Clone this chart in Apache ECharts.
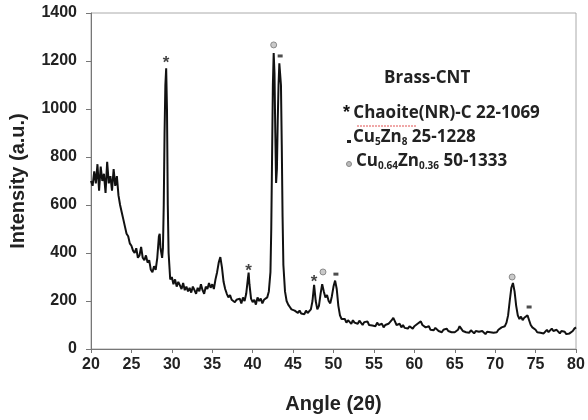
<!DOCTYPE html>
<html>
<head>
<meta charset="utf-8">
<script src="https://cdn.jsdelivr.net/npm/echarts@6/dist/echarts.min.js"></script>
<style>html,body{margin:0;padding:0;background:#fff}#c{width:588px;height:420px}</style>
</head>
<body>
<div id="c"></div>
<script>
// XRD pattern: [angle 2θ, intensity]
const pattern = [
[20.0,700],[20.2,680],[20.4,740],[20.6,690],[20.8,770],[21.0,660],[21.2,760],[21.4,700],[21.6,730],[21.8,650],
[22.0,780],[22.2,690],[22.4,720],[22.6,660],[22.8,750],[23.0,680],[23.2,720],[23.4,640],[23.6,600],[23.8,570],
[24.0,540],[24.2,510],[24.4,480],[24.6,470],[24.8,440],[25.0,430],[25.2,410],[25.4,400],[25.6,420],[25.8,380],
[26.0,390],[26.2,425],[26.4,380],[26.6,370],[26.8,390],[27.0,360],[27.2,370],[27.4,330],[27.6,320],[27.8,345],
[28.0,330],[28.2,380],[28.4,470],[28.5,480],[28.6,420],[28.8,380],[28.9,420],[29.0,600],[29.1,900],[29.2,1100],
[29.3,1170],[29.4,1000],[29.5,600],[29.6,400],[29.8,290],[30.0,300],[30.2,270],[30.4,290],[30.6,260],[30.8,280],
[31.0,265],[31.2,250],[31.4,275],[31.6,245],[31.8,260],[32.0,240],[32.2,255],[32.4,235],[32.6,260],[32.8,245],
[33.0,230],[33.2,255],[33.4,240],[33.6,270],[33.8,245],[34.0,230],[34.2,260],[34.4,250],[34.6,275],[34.8,255],
[35.0,270],[35.2,250],[35.4,290],[35.6,320],[35.8,360],[36.0,383],[36.2,340],[36.4,280],[36.6,250],[36.8,230],
[37.0,215],[37.2,225],[37.4,205],[37.6,210],[37.8,195],[38.0,205],[38.2,200],[38.4,210],[38.6,190],[38.8,215],
[39.0,200],[39.2,230],[39.4,290],[39.5,318],[39.6,270],[39.8,210],[40.0,195],[40.2,205],[40.4,185],[40.6,215],
[40.8,200],[41.0,210],[41.2,190],[41.4,205],[41.6,200],[41.8,215],[42.0,240],[42.2,320],[42.3,500],[42.4,800],
[42.5,1100],[42.6,1233],[42.7,1150],[42.8,900],[42.9,692],[43.0,750],[43.1,950],[43.2,1100],[43.3,1190],[43.4,1196],
[43.5,1100],[43.6,850],[43.7,550],[43.8,350],[44.0,240],[44.2,200],[44.4,185],[44.6,175],[44.8,165],[45.0,170],
[45.2,160],[45.4,165],[45.6,150],[45.8,160],[46.0,148],[46.2,155],[46.4,145],[46.6,160],[46.8,150],[47.0,145],
[47.2,165],[47.4,200],[47.6,267],[47.8,200],[48.0,165],[48.2,180],[48.4,230],[48.6,270],[48.8,240],[49.0,215],
[49.2,225],[49.4,200],[49.6,190],[49.8,220],[50.0,260],[50.2,285],[50.4,250],[50.6,180],[50.8,140],[51.0,125],
[51.2,120],[51.4,125],[51.6,110],[51.8,120],[52.0,115],[52.2,105],[52.4,120],[52.6,110],[52.8,115],[53.0,105],
[53.2,118],[53.4,110],[53.6,100],[53.8,112],[54.0,105],[54.2,115],[54.4,100],[54.6,108],[54.8,98],[55.0,105],
[55.2,95],[55.4,110],[55.6,100],[55.8,95],[56.0,105],[56.2,90],[56.4,100],[56.6,95],[56.8,105],[57.0,110],
[57.2,120],[57.4,130],[57.6,115],[57.8,100],[58.0,95],[58.2,105],[58.4,90],[58.6,100],[58.8,88],[59.0,95],
[59.2,85],[59.4,95],[59.6,90],[59.8,85],[60.0,95],[60.2,90],[60.4,105],[60.6,110],[60.8,115],[61.0,100],
[61.2,95],[61.4,90],[61.6,85],[61.8,95],[62.0,80],[62.2,85],[62.4,78],[62.6,88],[62.8,80],[63.0,75],
[63.2,82],[63.4,70],[63.6,80],[63.8,72],[64.0,85],[64.2,75],[64.4,80],[64.6,70],[64.8,78],[65.0,70],
[65.2,75],[65.4,80],[65.6,95],[65.8,85],[66.0,75],[66.2,80],[66.4,70],[66.6,75],[66.8,68],[67.0,78],
[67.2,70],[67.4,65],[67.6,75],[67.8,68],[68.0,72],[68.2,65],[68.4,75],[68.6,70],[68.8,62],[69.0,72],
[69.2,65],[69.4,70],[69.6,62],[69.8,68],[70.0,75],[70.2,70],[70.4,80],[70.6,75],[70.8,90],[71.0,85],
[71.2,95],[71.4,110],[71.6,140],[71.8,200],[72.0,255],[72.2,275],[72.4,240],[72.6,180],[72.8,140],[73.0,125],
[73.2,135],[73.4,120],[73.6,130],[73.8,125],[74.0,140],[74.2,120],[74.4,100],[74.6,90],[74.8,85],[75.0,80],
[75.2,70],[75.4,78],[75.6,68],[75.8,75],[76.0,65],[76.2,72],[76.4,80],[76.6,70],[76.8,78],[77.0,85],
[77.2,75],[77.4,70],[77.6,80],[77.8,72],[78.0,65],[78.2,75],[78.4,68],[78.6,72],[78.8,62],[79.0,70],
[79.2,65],[79.4,60],[79.6,75],[79.8,85],[80.0,90]
];
// peak markers (phase identification)
const chaoitePeaks = [[29.3,1205],[39.5,340],[47.6,296]];
const cu5zn8Peaks = [[43.4,1221],[50.3,312],[74.2,175]];
const cuZnPeaks = [[42.6,1267],[48.7,321],[72.1,300]];
const xTicks = [20,25,30,35,40,45,50,55,60,65,70,75,80];
const yTicks = [0,200,400,600,800,1000,1200,1400];

const chart = echarts.init(document.getElementById('c'));
const axisFont = {fontFamily:'Liberation Sans', fontWeight:'bold', fontSize:16, color:'#222'};
const titleFont = {fontFamily:'Liberation Sans', fontWeight:'bold', fontSize:20, color:'#222'};
chart.setOption({
  animation:false,
  backgroundColor:'#fff',
  grid:{left:88,right:12,top:13,bottom:71,show:true,borderColor:'#aaa',borderWidth:1},
  xAxis:{type:'value',min:xTicks[0],max:xTicks[xTicks.length-1],interval:5,
    name:'Angle (2θ)',nameLocation:'middle',nameGap:45,
    nameTextStyle:titleFont,
    axisLine:{lineStyle:{color:'#777',width:1}},
    axisTick:{show:true,length:4,lineStyle:{color:'#777'}},
    axisLabel:Object.assign({margin:8,formatter:v=>String(v)},axisFont),
    splitLine:{show:false}},
  yAxis:{type:'value',min:yTicks[0],max:yTicks[yTicks.length-1],interval:200,
    name:'Intensity (a.u.)',nameLocation:'middle',nameGap:63,
    nameTextStyle:titleFont,
    axisLine:{show:true,lineStyle:{color:'#777',width:1}},
    axisTick:{show:true,length:5,lineStyle:{color:'#777'}},
    axisLabel:Object.assign({margin:14,formatter:v=>String(v)},axisFont),
    splitLine:{show:false}},
  series:[
    {type:'line',data:pattern,showSymbol:false,symbol:'none',
     lineStyle:{color:'#111',width:2},z:3},
    {type:'scatter',data:chaoitePeaks,symbolSize:1,itemStyle:{color:'rgba(0,0,0,0)'},
     label:{show:true,position:'inside',formatter:'*',fontFamily:'Liberation Sans',fontWeight:'bold',fontSize:17,color:'#111',offset:[0,4]},z:4},
    {type:'scatter',data:cu5zn8Peaks,symbol:'rect',symbolSize:[5,3],itemStyle:{color:'#222'},z:4},
    {type:'scatter',data:cuZnPeaks,symbol:'circle',symbolSize:6,itemStyle:{color:'#bbb',borderColor:'#777',borderWidth:1},z:4}
  ],
  graphic:[
    {type:'text',left:384,top:70,style:{text:'Brass-CNT',font:'bold 17px "Open Sans"',fill:'#222'}},
    {type:'text',left:343,top:104,style:{
      text:'{s|*} {b|Chaoite(NR)-C 22-1069}',
      rich:{s:{font:'bold 18px "Liberation Sans"',fill:'#111',verticalAlign:'top'},b:{font:'bold 17px "Open Sans"',fill:'#222'}}}},
    {type:'line',shape:{x1:357,y1:126,x2:417,y2:126},style:{stroke:'#e05050',lineWidth:1,lineDash:[2,1]}},
    {type:'rect',shape:{x:347,y:140,width:4,height:3},style:{fill:'#222'}},
    {type:'text',left:353,top:129,style:{
      text:'{b|Cu}{sub|5}{b|Zn}{sub|8}{b| 25-1228}',
      rich:{b:{font:'bold 17px "Open Sans"',fill:'#222'},sub:{font:'bold 10px "Open Sans"',fill:'#222',padding:[9,0,0,0]}}}},
    {type:'circle',shape:{cx:349,cy:164,r:2.5},style:{fill:'#bbb',stroke:'#888',lineWidth:1}},
    {type:'text',left:356,top:153,style:{
      text:'{b|Cu}{sub|0.64}{b|Zn}{sub|0.36}{b| 50-1333}',
      rich:{b:{font:'bold 17px "Open Sans"',fill:'#222'},sub:{font:'bold 10px "Open Sans"',fill:'#222',padding:[9,0,0,0]}}}}
  ]
});
</script>
</body>
</html>
